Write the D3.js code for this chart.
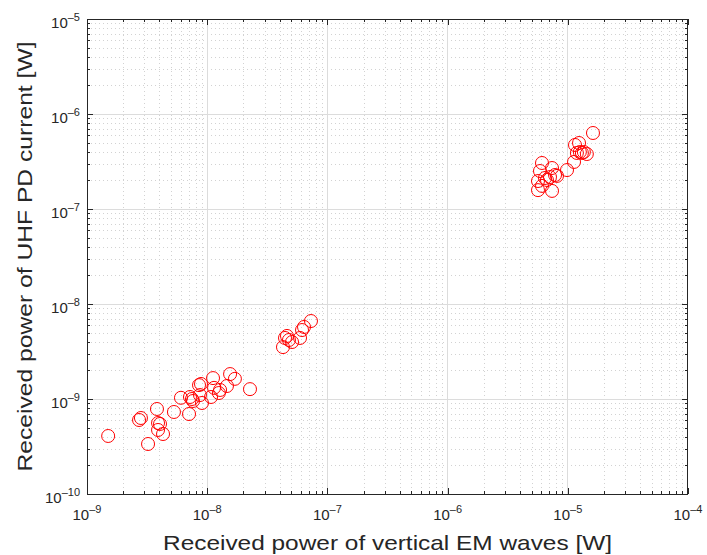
<!DOCTYPE html>
<html><head><meta charset="utf-8">
<script src="https://cdn.jsdelivr.net/npm/d3@7"></script>
<style>body{margin:0;background:#fff}svg{display:block}</style>
</head><body>
<svg id="c" width="707" height="555"></svg>
<script>
// Received power of vertical EM waves [W]
const xValues = [
 1.5e-9, 2.71e-9, 2.81e-9, 3.22e-9, 3.82e-9, 3.90e-9, 4.05e-9, 3.90e-9, 4.29e-9, 5.29e-9,
 7.06e-9, 6.05e-9, 7.19e-9, 7.47e-9, 7.62e-9, 8.55e-9, 8.88e-9, 8.71e-9, 9.05e-9, 1.076e-8,
 1.118e-8, 1.14e-8, 1.28e-8, 1.25e-8, 1.46e-8, 1.55e-8, 1.70e-8, 2.27e-8,
 4.27e-8, 4.44e-8, 4.61e-8, 4.79e-8, 5.08e-8, 5.92e-8, 6.15e-8, 6.39e-8, 7.30e-8,
 1.62e-5, 1.148e-5, 1.24e-5, 1.19e-5, 1.26e-5, 1.31e-5, 1.36e-5, 1.44e-5, 1.127e-5, 9.85e-6,
 6.10e-6, 5.87e-6, 7.39e-6, 7.83e-6, 8.13e-6, 7.11e-6, 6.46e-6, 6.71e-6, 5.65e-6, 6.10e-6,
 5.65e-6, 7.39e-6
];
// Received power of UHF PD current [W]
const yValues = [
 4.08e-10, 6.01e-10, 6.31e-10, 3.36e-10, 7.85e-10, 5.59e-10, 5.46e-10, 4.72e-10, 4.28e-10, 7.30e-10,
 6.95e-10, 1.03e-9, 1.05e-9, 1.0e-9, 9.53e-10, 1.40e-9, 1.44e-9, 1.10e-9, 9.08e-10, 1.05e-9,
 1.66e-9, 1.31e-9, 1.245e-9, 1.156e-9, 1.37e-9, 1.83e-9, 1.63e-9, 1.27e-9,
 3.52e-9, 4.39e-9, 4.61e-9, 4.18e-9, 3.98e-9, 4.39e-9, 5.32e-9, 5.73e-9, 6.62e-9,
 6.31e-7, 4.72e-7, 4.95e-7, 3.89e-7, 3.98e-7, 3.89e-7, 3.98e-7, 3.79e-7, 3.13e-7, 2.57e-7,
 3.05e-7, 2.51e-7, 2.70e-7, 2.28e-7, 2.23e-7, 2.17e-7, 2.12e-7, 2.02e-7, 1.97e-7, 1.75e-7,
 1.58e-7, 1.55e-7
];
const xTickExps = [-9, -8, -7, -6, -5, -4];
const yTickExps = [-10, -9, -8, -7, -6, -5];
const xLabel = "Received power of vertical EM waves [W]";
const yLabel = "Received power of UHF PD current [W]";

const svg = d3.select("#c");
const L = 87, R = 688, T = 19, B = 494;
const x = d3.scaleLog().domain([1e-9, 1e-4]).range([L, R]);
const y = d3.scaleLog().domain([1e-10, 1e-5]).range([B, T]);

const major = e => Math.pow(10, e);
const minorVals = (exps) => {
  const out = [];
  for (let i = 0; i < exps.length - 1; i++)
    for (let m = 2; m <= 9; m++) out.push(m * Math.pow(10, exps[i]));
  return out;
};
const xMinor = minorVals(xTickExps), yMinor = minorVals(yTickExps);

const g = svg.append("g");
// minor grid (dotted)
g.selectAll(".xmg").data(xMinor).join("line")
  .attr("x1", d => Math.round(x(d)) + 0.5).attr("x2", d => Math.round(x(d)) + 0.5).attr("y1", T).attr("y2", B)
  .attr("stroke", "#d2d2d2").attr("stroke-width", 1).attr("stroke-dasharray", "1,3");
g.selectAll(".ymg").data(yMinor).join("line")
  .attr("y1", d => Math.round(y(d)) + 0.5).attr("y2", d => Math.round(y(d)) + 0.5).attr("x1", L).attr("x2", R)
  .attr("stroke", "#d2d2d2").attr("stroke-width", 1).attr("stroke-dasharray", "1,3");
// major grid
g.selectAll(".xg").data(xTickExps.slice(1, -1)).join("line")
  .attr("x1", d => x(major(d))).attr("x2", d => x(major(d))).attr("y1", T).attr("y2", B)
  .attr("stroke", "#dcdcdc").attr("stroke-width", 1).attr("shape-rendering", "crispEdges");
g.selectAll(".yg").data(yTickExps.slice(1, -1)).join("line")
  .attr("y1", d => y(major(d))).attr("y2", d => y(major(d))).attr("x1", L).attr("x2", R)
  .attr("stroke", "#dcdcdc").attr("stroke-width", 1).attr("shape-rendering", "crispEdges");

// ticks on all four sides via d3 axes (no labels)
const axCol = "#262626";
function tickAxis(axisFn, scale, vals, size, transform) {
  const a = svg.append("g").attr("transform", transform)
    .call(axisFn(scale).tickValues(vals).tickSize(size).tickFormat(""));
  a.select(".domain").remove();
  a.selectAll("line").attr("stroke", axCol).attr("shape-rendering", "crispEdges");
}
const xMaj = xTickExps.map(major), yMaj = yTickExps.map(major);
tickAxis(d3.axisTop, x, xMaj, 6, `translate(0,${B})`);
tickAxis(d3.axisTop, x, xMinor, 3, `translate(0,${B})`);
tickAxis(d3.axisBottom, x, xMaj, 6, `translate(0,${T})`);
tickAxis(d3.axisBottom, x, xMinor, 3, `translate(0,${T})`);
tickAxis(d3.axisRight, y, yMaj, 6, `translate(${L},0)`);
tickAxis(d3.axisRight, y, yMinor, 3, `translate(${L},0)`);
tickAxis(d3.axisLeft, y, yMaj, 6, `translate(${R},0)`);
tickAxis(d3.axisLeft, y, yMinor, 3, `translate(${R},0)`);

// box
svg.append("rect").attr("x", L + 0.5).attr("y", T + 0.5).attr("width", R - L - 1).attr("height", B - T)
  .attr("fill", "none").attr("stroke", axCol).attr("stroke-width", 1);

// points
svg.append("g").selectAll("circle").data(xValues.map((v, i) => [v, yValues[i]])).join("circle")
  .attr("cx", d => x(d[0])).attr("cy", d => y(d[1])).attr("r", 6.5)
  .attr("fill", "none").attr("stroke", "#ff0000").attr("stroke-width", 1);

// tick labels
const font = "'Liberation Sans', Arial, sans-serif";
const xt = svg.append("g").attr("font-family", font).attr("fill", axCol);
xTickExps.forEach(e => {
  const t = xt.append("text").attr("x", x(major(e))).attr("y", 520).attr("text-anchor", "middle").attr("font-size", 15);
  t.append("tspan").text("10");
  t.append("tspan").attr("dy", -7).attr("font-size", 11).text("\u2013" + Math.abs(e));
});
yTickExps.forEach(e => {
  const t = xt.append("text").attr("x", 80).attr("y", y(major(e)) + 9).attr("text-anchor", "end").attr("font-size", 15);
  t.append("tspan").text("10");
  t.append("tspan").attr("dy", -7).attr("font-size", 11).text("\u2013" + Math.abs(e));
});

// axis labels
svg.append("text").attr("x", 387.5).attr("y", 550).attr("text-anchor", "middle")
  .attr("font-family", font).attr("font-size", 21).attr("fill", axCol)
  .attr("textLength", 449).attr("lengthAdjust", "spacingAndGlyphs").text(xLabel);
svg.append("text").attr("transform", `translate(32,256.5) rotate(-90)`).attr("text-anchor", "middle")
  .attr("font-family", font).attr("font-size", 21).attr("fill", axCol)
  .attr("textLength", 430).attr("lengthAdjust", "spacingAndGlyphs").text(yLabel);
</script>
</body></html>
